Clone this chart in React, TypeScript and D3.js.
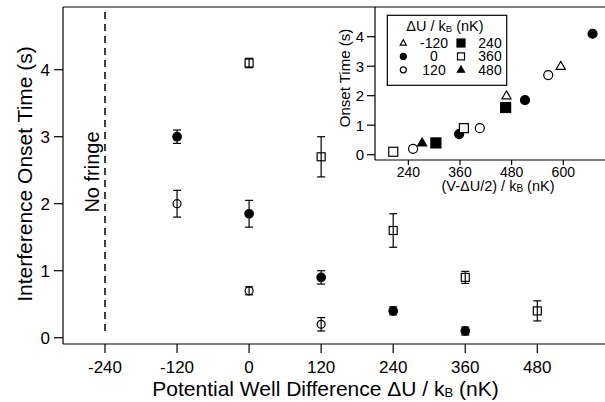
import React from 'react'
import * as d3 from 'd3'

// main plot: onset time vs potential well difference
const xTicks = [-240, -120, 0, 120, 240, 360, 480]
const yTicks = [0, 1, 2, 3, 4]

const sqX = [0, 120, 240, 360, 480]
const sqY = [4.1, 2.7, 1.6, 0.9, 0.4]
const sqErr = [0.07, 0.3, 0.25, 0.09, 0.15]

const fcX = [-120, 0, 120, 240, 360]
const fcY = [3.0, 1.85, 0.9, 0.4, 0.1]
const fcErr = [0.1, 0.2, 0.1, 0.06, 0.06]

const ocX = [-120, 0, 120]
const ocY = [2.0, 0.7, 0.2]
const ocErr = [0.2, 0.06, 0.1]

const noFringeAt = -240

// inset: onset time vs (V - dU/2), marker = dU
const insetXTicks = [240, 360, 480, 600]
const insetYTicks = [0, 1, 2, 3, 4]
const insetPts: [number, number, number][] = [
  // [dU, x, y]
  [360, 205, 0.1],
  [120, 251, 0.2],
  [480, 272, 0.4],
  [240, 304, 0.4],
  [0, 358, 0.7],
  [360, 369, 0.9],
  [120, 406, 0.9],
  [-120, 468, 2.0],
  [240, 466, 1.6],
  [0, 511, 1.85],
  [120, 565, 2.7],
  [-120, 594, 3.0],
  [0, 668, 4.1],
]
const legendRows = [
  [-120, 240],
  [0, 360],
  [120, 480],
]

const font = '"Liberation Sans", Arial, Helvetica, sans-serif'

function Marker({ kind, x, y, s }: { kind: number; x: number; y: number; s: number }) {
  // kind = dU value
  const sw = 1.2
  if (kind === -120 || kind === 480) {
    const pts = d3.symbol().type(d3.symbolTriangle).size(s * s * 0.45)()
    return (
      <path d={pts || ''} transform={`translate(${x},${y + s * 0.05})`}
        fill={kind === 480 ? '#000' : '#fff'} stroke="#000" strokeWidth={sw} />
    )
  }
  if (kind === 0 || kind === 120) {
    return <circle cx={x} cy={y} r={s / 2} fill={kind === 0 ? '#000' : '#fff'} stroke="#000" strokeWidth={sw} />
  }
  return (
    <rect x={x - s / 2} y={y - s / 2} width={s} height={s}
      fill={kind === 240 ? '#000' : '#fff'} stroke="#000" strokeWidth={sw} />
  )
}

export default function App() {
  const W = 605
  const H = 402

  const x = d3.scaleLinear().domain([-240, 480]).range([105, 537.3])
  const y = d3.scaleLinear().domain([0, 4]).range([337.7, 69.7])
  const left = 63, right = 605, top = 7, bottom = 344

  const ix = d3.scaleLinear().domain([360, 600]).range([460, 563.3])
  const iy = d3.scaleLinear().domain([0, 4]).range([154.7, 36.7])
  const iLeft = 375, iBottom = 160

  const errBar = (cx: number, v: number, e: number, key: string) => {
    const y1 = y(v + e), y2 = y(v - e)
    return (
      <g key={key} stroke="#000" strokeWidth={1.2}>
        <line x1={cx} x2={cx} y1={y1} y2={y2} />
        <line x1={cx - 4} x2={cx + 4} y1={y1} y2={y1} />
        <line x1={cx - 4} x2={cx + 4} y1={y2} y2={y2} />
      </g>
    )
  }

  return (
    <svg width={W} height={H} style={{ position: 'absolute', left: 0, top: 0, display: 'block', background: '#fff' }}
      fontFamily={font}>
      {/* main frame */}
      <line x1={left} x2={right} y1={top} y2={top} stroke="#000" strokeWidth={1.2} />
      <line x1={left} x2={left} y1={top} y2={bottom} stroke="#000" strokeWidth={1.2} />
      <line x1={left} x2={right} y1={bottom} y2={bottom} stroke="#000" strokeWidth={1.2} />

      {yTicks.map(t => (
        <g key={'yt' + t}>
          <line x1={left - 9} x2={left} y1={y(t)} y2={y(t)} stroke="#000" strokeWidth={1.2} />
          <text x={50} y={y(t)} dy="0.36em" textAnchor="end" fontSize={17}>{t}</text>
        </g>
      ))}
      {xTicks.map(t => (
        <g key={'xt' + t}>
          <line x1={x(t)} x2={x(t)} y1={bottom} y2={bottom + 9} stroke="#000" strokeWidth={1.2} />
          <text x={x(t)} y={373} textAnchor="middle" fontSize={17}>{t}</text>
        </g>
      ))}

      <text x={325.5} y={396} textAnchor="middle" fontSize={21}>
        Potential Well Difference ΔU / k<tspan fontSize={13} dy={1}>B</tspan><tspan dy={-1}> (nK)</tspan>
      </text>
      <text transform="translate(32,174) rotate(-90)" textAnchor="middle" fontSize={21}>
        Interference Onset Time (s)
      </text>

      {/* no fringe marker */}
      <line x1={x(noFringeAt)} x2={x(noFringeAt)} y1={12} y2={336} stroke="#000" strokeWidth={1.5}
        strokeDasharray="7,5" />
      <text transform="translate(99,172) rotate(-90)" textAnchor="middle" fontSize={20}>No fringe</text>

      {/* markers, then error bars on top */}
      {sqX.map((v, i) => <Marker key={'sm' + i} kind={360} x={x(v)} y={y(sqY[i])} s={8} />)}
      {fcX.map((v, i) => <Marker key={'fm' + i} kind={0} x={x(v)} y={y(fcY[i])} s={8.5} />)}
      {ocX.map((v, i) => <Marker key={'om' + i} kind={120} x={x(v)} y={y(ocY[i])} s={8} />)}
      {sqX.map((v, i) => errBar(x(v), sqY[i], sqErr[i], 'se' + i))}
      {fcX.map((v, i) => errBar(x(v), fcY[i], fcErr[i], 'fe' + i))}
      {ocX.map((v, i) => errBar(x(v), ocY[i], ocErr[i], 'oe' + i))}

      {/* inset */}
      <line x1={iLeft} x2={iLeft} y1={top} y2={iBottom} stroke="#000" strokeWidth={1.2} />
      <line x1={iLeft} x2={right} y1={iBottom} y2={iBottom} stroke="#000" strokeWidth={1.2} />
      {insetYTicks.map(t => (
        <g key={'iyt' + t}>
          <line x1={iLeft - 8} x2={iLeft} y1={iy(t)} y2={iy(t)} stroke="#000" strokeWidth={1.2} />
          <text x={364} y={iy(t)} dy="0.36em" textAnchor="end" fontSize={15}>{t}</text>
        </g>
      ))}
      {insetXTicks.map(t => (
        <g key={'ixt' + t}>
          <line x1={ix(t)} x2={ix(t)} y1={iBottom} y2={iBottom + 5} stroke="#000" strokeWidth={1.2} />
          <text x={ix(t)} y={177} textAnchor="middle" fontSize={14}>{t}</text>
        </g>
      ))}
      <text x={498} y={191} textAnchor="middle" fontSize={14.5}>
        (V-ΔU/2) / k<tspan fontSize={10} dy={1}>B</tspan><tspan dy={-1}> (nK)</tspan>
      </text>
      <text transform="translate(350,78) rotate(-90)" textAnchor="middle" fontSize={15}>Onset Time (s)</text>

      {insetPts.map((p, i) => (
        <Marker key={'ip' + i} kind={p[0]} x={ix(p[1])} y={iy(p[2])} s={p[0] === 240 ? 10 : 9} />
      ))}

      {/* legend */}
      <rect x={387.3} y={15.3} width={119.4} height={70} fill="#fff" stroke="#000" strokeWidth={1.2} />
      <text x={445} y={31} textAnchor="middle" fontSize={14.5}>
        ΔU / k<tspan fontSize={9.5} dy={1}>B</tspan><tspan dy={-1}> (nK)</tspan>
      </text>
      {legendRows.map((row, r) => (
        <g key={'lr' + r}>
          <Marker kind={row[0]} x={403.3} y={43 + r * 13.4} s={6} />
          <text x={434} y={43 + r * 13.4} dy="0.36em" textAnchor="middle" fontSize={14}>{row[0]}</text>
          <Marker kind={row[1]} x={461} y={43 + r * 13.4} s={row[1] === 240 ? 8 : 7} />
          <text x={501.7} y={43 + r * 13.4} dy="0.36em" textAnchor="end" fontSize={14}>{row[1]}</text>
        </g>
      ))}
    </svg>
  )
}
